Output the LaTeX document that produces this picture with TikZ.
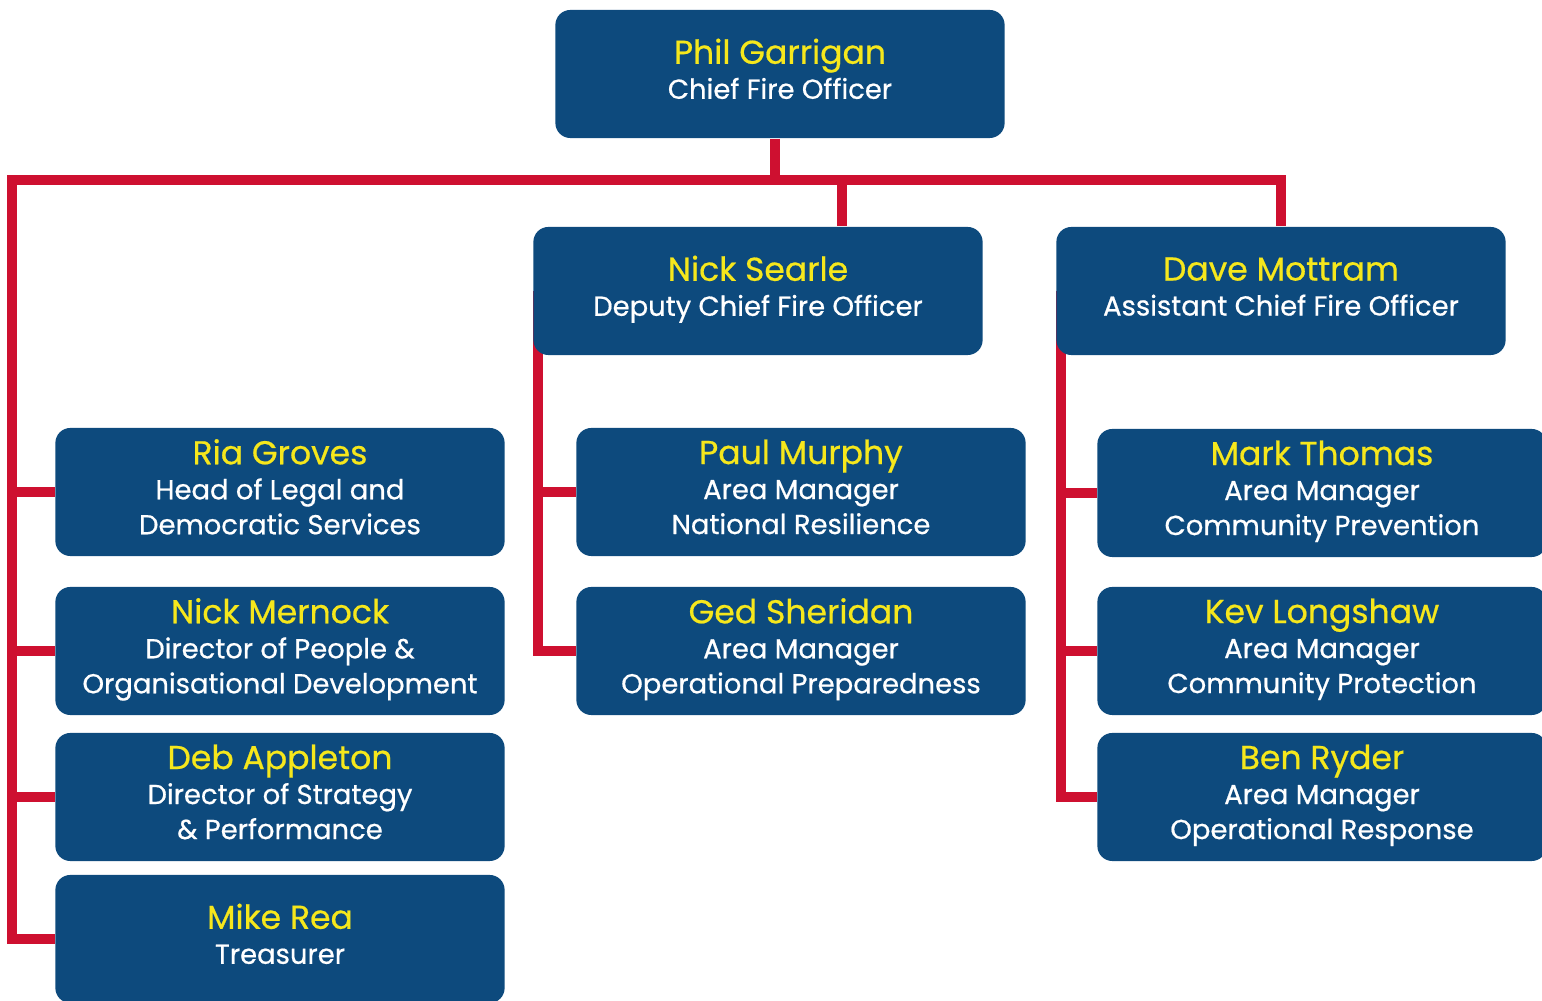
\documentclass[tikz,border=0pt]{standalone}
\usepackage{fontspec}
\usepackage{xcolor}
\setmainfont{Poppins}[FakeBold=0.6]
\usetikzlibrary{positioning,backgrounds}
\definecolor{boxblue}{RGB}{13,74,125}
\definecolor{linkred}{RGB}{206,16,48}
\definecolor{nameyellow}{RGB}{246,231,28}
\newcommand{\who}[2]{{\color{nameyellow}\fontsize{9.4}{9.95}\selectfont\rule{0pt}{7pt}#1}\\#2\rule[-3pt]{0pt}{3pt}}

\begin{document}
\begin{tikzpicture}[x=0.01cm,y=-0.01cm,
    post/.style={fill=boxblue,rounded corners=0.15cm,minimum width=4.49cm,
      minimum height=1.28cm,inner sep=0pt,text=white,align=center,
      font=\fontsize{7.8}{9.95}\selectfont},
    link/.style={draw=linkred,line width=2.9pt,line join=miter}]
  \path[use as bounding box,clip] (0,0) rectangle (1542,1001);
  % top
  \node[post] at(780,74)(phil){\who{Phil Garrigan}{Chief Fire Officer}};
  \node[post] at(758,291)(searle){\who{Nick Searle}{Deputy Chief Fire Officer}};
  \node[post] at(1281,291)(mottram){\who{Dave Mottram}{Assistant Chief Fire Officer}};
  % left column
  \node[post] at(280,492)(ria){\who{Ria Groves}{Head of Legal and\\Democratic Services}};
  \node[post] at(280,651)(mernock){\who{Nick Mernock}{Director of People \&\\Organisational Development}};
  \node[post] at(280,797)(appleton){\who{Deb Appleton}{Director of Strategy\\\& Performance}};
  \node[post] at(280,939)(rea){\who{Mike Rea}{Treasurer}};
  % middle column
  \node[post] at(801,492)(murphy){\who{Paul Murphy}{Area Manager\\National Resilience}};
  \node[post] at(801,651)(sheridan){\who{Ged Sheridan}{Area Manager\\Operational Preparedness}};
  % right column
  \node[post] at(1322,493)(thomas){\who{Mark Thomas}{Area Manager\\Community Prevention}};
  \node[post] at(1322,651)(longshaw){\who{Kev Longshaw}{Area Manager\\Community Protection}};
  \node[post] at(1322,797)(ryder){\who{Ben Ryder}{Area Manager\\Operational Response}};
  \coordinate (busW) at (12,180);
  \coordinate (hub) at (775,180);
  \coordinate (tap) at (842,180);
  \begin{scope}[on background layer]
    \draw[link] (phil.south -| hub) -- (hub);
    \draw[link] (tap) -- (tap |- searle.north);
    \draw[link] (rea.west) -| (busW) -| (mottram.north);
    \foreach \n in {ria,mernock,appleton}
      \draw[link] (busW) |- (\n.west);
    \draw[link] ([xshift=0.05cm]searle.west) |- (sheridan.west);
    \draw[link] ([xshift=0.05cm]searle.west) |- (murphy.west);
    \foreach \n in {thomas,longshaw,ryder}
      \draw[link] ([xshift=0.05cm]mottram.west) |- (\n.west);
  \end{scope}
\end{tikzpicture}
\end{document}
